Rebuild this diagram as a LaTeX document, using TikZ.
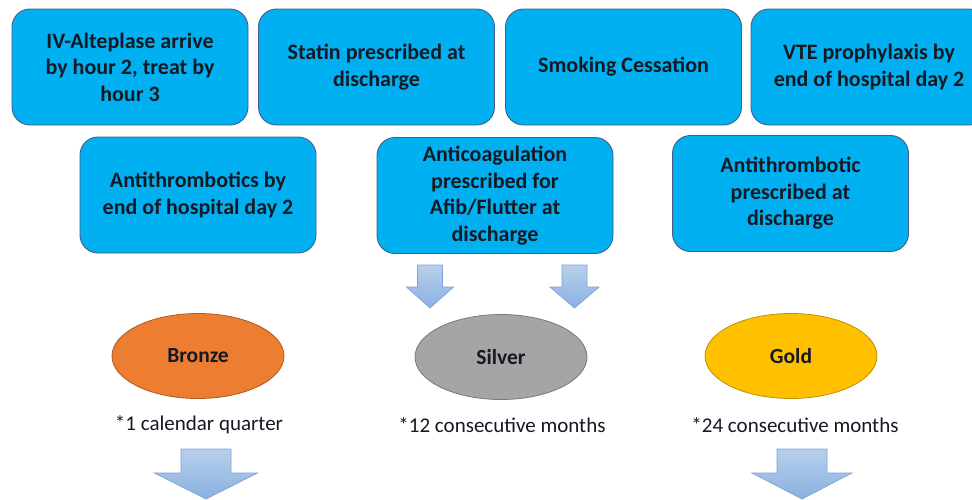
\documentclass[tikz,border=0pt]{standalone}
\usepackage{fontspec}
\setmainfont{Carlito}
\usepackage{tikz}

\definecolor{boxfill}{RGB}{0,176,240}
\definecolor{boxline}{RGB}{65,95,140}
\definecolor{bronze}{RGB}{237,125,49}
\definecolor{bronzeline}{RGB}{174,90,33}
\definecolor{silver}{RGB}{165,165,165}
\definecolor{silverline}{RGB}{120,120,120}
\definecolor{gold}{RGB}{255,192,0}
\definecolor{goldline}{RGB}{190,145,0}
\definecolor{arrowtop}{RGB}{184,207,236}
\definecolor{arrowbot}{RGB}{137,177,224}
\definecolor{arrowline}{RGB}{125,163,214}
\definecolor{ink}{RGB}{20,25,35}

\tikzset{
  measure/.style={draw=boxline, fill=boxfill, line width=0.9pt, rounded corners=18pt,
    minimum width=236pt, minimum height=116pt, align=center, text=ink,
    font=\bfseries\fontsize{22}{26.5}\selectfont},
  level/.style={ellipse, draw=#1line, fill=#1, line width=0.8pt, text=ink,
    minimum width=172pt, minimum height=85pt, font=\bfseries\fontsize{21.5}{24}\selectfont},
  note/.style={text=ink, font=\fontsize{21}{24}\selectfont},
  blockarrow/.style={draw=arrowline, line width=0.7pt, top color=arrowtop, bottom color=arrowbot}
}

% block arrow: centre x, top y, shaft half width, head half width, head start y, tip y
\newcommand{\downarrowat}[6]{%
  \draw[blockarrow] (#1-#3,#2) -- (#1+#3,#2) -- (#1+#3,#5) -- (#1+#4,#5)
    -- (#1,#6) -- (#1-#4,#5) -- (#1-#3,#5) -- cycle;}

\usetikzlibrary{shapes.geometric}

\begin{document}
\begin{tikzpicture}[x=1pt,y=-1pt]
        \clip (0,0) rectangle (972,499);
        \fill[white] (0,0) rectangle (972,499);

        % top row
        \node[measure] (alteplase) at (130,67) {IV-Alteplase arrive\\by hour 2, treat by\\hour 3};
        \node[measure] (statin) at (376.5,67) {Statin prescribed at\\discharge};
        \node[measure] (smoking) at (623.5,67) {Smoking Cessation};
        \node[measure] (vte) at (869,67) {VTE prophylaxis by\\end of hospital day 2};

        % second row
        \node[measure] (antithrombotics) at (198,195) {Antithrombotics by\\end of hospital day 2};
        \node[measure] (anticoag) at (495,195.5) {Anticoagulation\\prescribed for\\Afib/Flutter at\\discharge};
        \node[measure] (antithrombotic) at (790.5,193.5) {Antithrombotic\\prescribed at\\discharge};

        % small arrows
        \downarrowat{430}{265}{12.5}{23.5}{287}{308}
        \downarrowat{574.5}{265}{12.5}{24.5}{287}{308}

        % award levels
        \node[level=bronze] (bronze) at (198,356) {Bronze};
        \node[level=silver] (silver) at (501,357) {Silver};
        \node[level=gold] (gold) at (791,356) {Gold};

        \node[note] (bronzenote) at (199,425) {*1 calendar quarter};
        \node[note] (silvernote) at (502,425) {*12 consecutive months};
        \node[note] (goldnote) at (795,425) {*24 consecutive months};

        % big arrows
        \downarrowat{206}{449}{25}{51.5}{473}{499}
        \downarrowat{802}{449}{25}{50}{473}{499}
        \end{tikzpicture}
\end{document}
